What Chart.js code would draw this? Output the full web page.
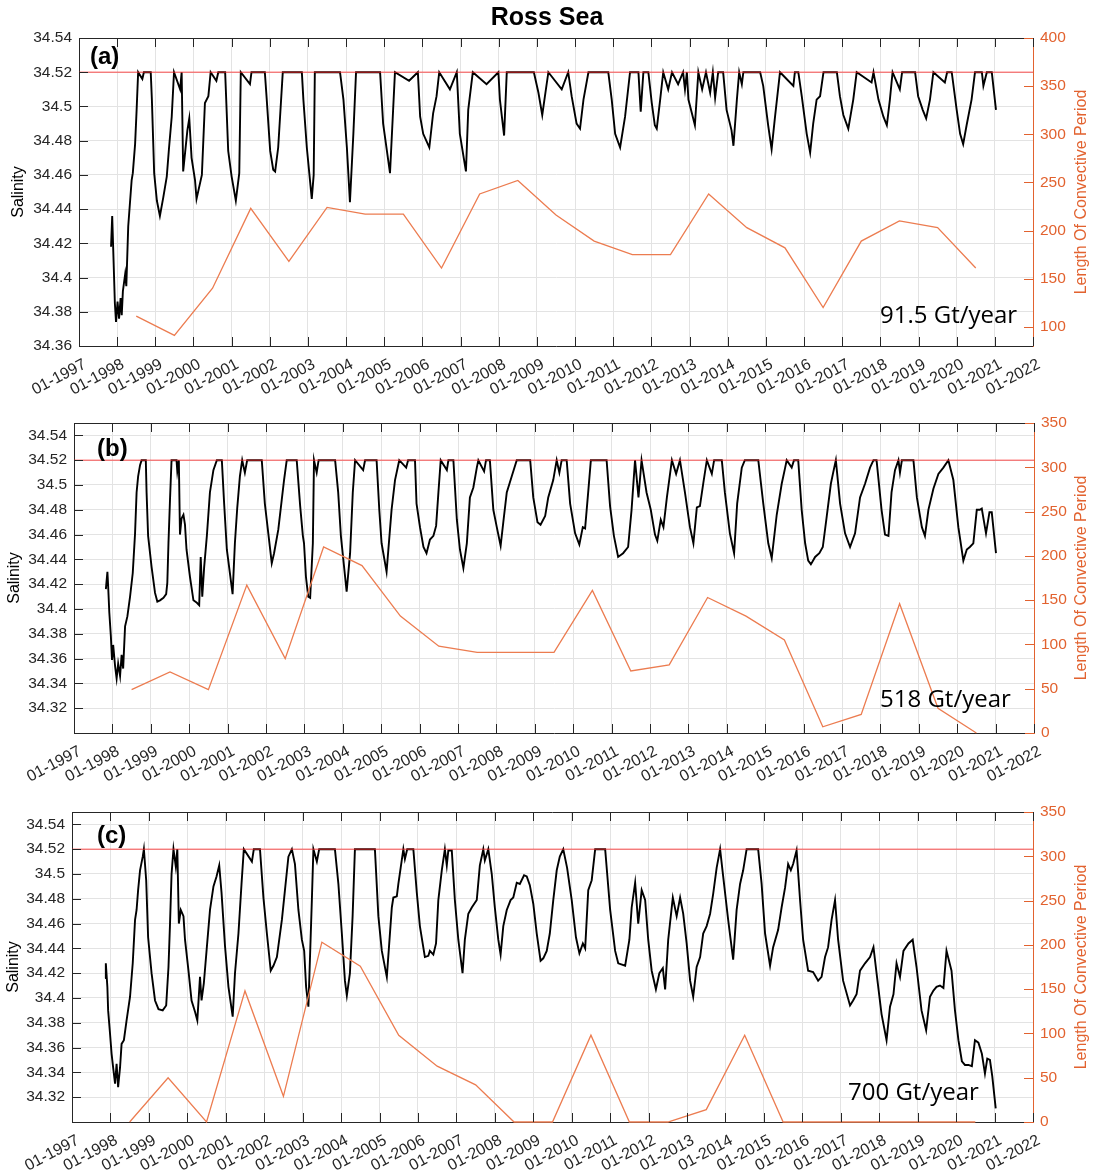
<!DOCTYPE html>
<html>
<head>
<meta charset="utf-8">
<script src="https://cdn.jsdelivr.net/npm/chart.js@4.4.1/dist/chart.umd.min.js"></script>
<style>
body { margin: 0; background: #fff; }
#wrap { position: relative; width: 1094px; height: 1172px; }
canvas { position: absolute; left: 0; }
</style>
</head>
<body>
<div id="wrap">
  <canvas id="ca" width="1094" height="400" style="top:0px"></canvas>
  <canvas id="cb" width="1094" height="390" style="top:400px"></canvas>
  <canvas id="cc" width="1094" height="382" style="top:790px"></canvas>
</div>
<script>
// ---- data ----
var yearTicks = [1997, 1998, 1999, 2000, 2001, 2002, 2003, 2004, 2005, 2006, 2007, 2008, 2009,
                 2010, 2011, 2012, 2013, 2014, 2015, 2016, 2017, 2018, 2019, 2020, 2021, 2022];
var salTicksA = [34.36, 34.38, 34.40, 34.42, 34.44, 34.46, 34.48, 34.50, 34.52, 34.54];
var salTicksBC = [34.32, 34.34, 34.36, 34.38, 34.40, 34.42, 34.44, 34.46, 34.48, 34.50, 34.52, 34.54];
var convTicksA = [100, 150, 200, 250, 300, 350, 400];
var convTicksBC = [0, 50, 100, 150, 200, 250, 300, 350];
var threshold = 34.52;

// length of convective period, one value per year (plotted mid-year)
var convYears = [1998.5, 1999.5, 2000.5, 2001.5, 2002.5, 2003.5, 2004.5, 2005.5, 2006.5, 2007.5, 2008.5, 2009.5,
                 2010.5, 2011.5, 2012.5, 2013.5, 2014.5, 2015.5, 2016.5, 2017.5, 2018.5, 2019.5, 2020.5];
var convA = [111, 91, 140, 223, 168, 224, 217, 217, 161, 238, 252, 216, 189, 175, 175, 238, 203, 182, 120, 189, 210, 203, 161];
var convB = [49, 69, 49, 167, 84, 210, 189, 132, 98, 91, 91, 91, 161, 70, 77, 153, 132, 105, 7, 21, 146, 28, 0];
var convC = [0, 50, 0, 148, 29, 203, 176, 98, 63, 42, 0, 0, 98, 0, 0, 14, 98, 0, 0, 0, 0, 0, 0];

var rates = ['91.5 Gt/year', '518 Gt/year', '700 Gt/year'];

// salinity, [decimal year, salinity]
var salinityA = [
[1997.84,34.418],[1997.87,34.436],[1997.94,34.385],[1997.97,34.374],[1998.01,34.386],[1998.05,34.376],
[1998.09,34.388],[1998.12,34.378],[1998.15,34.392],[1998.21,34.402],[1998.24,34.395],[1998.29,34.43],
[1998.38,34.457],[1998.41,34.461],[1998.47,34.478],[1998.51,34.498],[1998.55,34.52],[1998.66,34.516],
[1998.70,34.52],[1998.88,34.52],[1998.91,34.504],[1998.97,34.461],[1999.04,34.445],[1999.12,34.436],
[1999.21,34.447],[1999.30,34.459],[1999.36,34.476],[1999.43,34.494],[1999.49,34.52],[1999.65,34.51],
[1999.69,34.52],[1999.73,34.462],[1999.84,34.486],[1999.89,34.493],[1999.95,34.47],[2000.04,34.457],
[2000.08,34.446],[2000.22,34.46],[2000.30,34.502],[2000.39,34.506],[2000.45,34.52],[2000.60,34.515],
[2000.65,34.52],[2000.83,34.52],[2000.91,34.474],[2001.00,34.459],[2001.11,34.445],[2001.20,34.461],
[2001.24,34.52],[2001.48,34.513],[2001.52,34.52],[2001.87,34.52],[2001.92,34.504],[2002.01,34.474],
[2002.09,34.463],[2002.14,34.462],[2002.22,34.476],[2002.34,34.52],[2002.84,34.52],[2002.88,34.504],
[2002.97,34.476],[2003.10,34.446],[2003.15,34.46],[2003.18,34.52],[2003.84,34.52],[2003.93,34.504],
[2004.02,34.476],[2004.10,34.444],[2004.19,34.484],[2004.26,34.52],[2004.89,34.52],[2004.97,34.49],
[2005.15,34.461],[2005.28,34.52],[2005.65,34.515],[2005.88,34.52],[2005.94,34.494],[2006.02,34.484],
[2006.18,34.476],[2006.28,34.496],[2006.37,34.506],[2006.44,34.52],[2006.72,34.51],[2006.90,34.52],
[2006.98,34.484],[2007.14,34.462],[2007.20,34.498],[2007.32,34.52],[2007.68,34.513],[2007.99,34.52],
[2008.03,34.504],[2008.14,34.483],[2008.21,34.52],[2008.92,34.52],[2009.04,34.508],[2009.14,34.495],
[2009.21,34.506],[2009.30,34.52],[2009.65,34.51],[2009.82,34.52],[2009.91,34.506],[2010.04,34.49],
[2010.13,34.487],[2010.22,34.504],[2010.35,34.52],[2010.87,34.52],[2010.96,34.504],[2011.05,34.484],
[2011.18,34.476],[2011.31,34.494],[2011.44,34.52],[2011.66,34.52],[2011.72,34.497],[2011.79,34.52],
[2011.92,34.52],[2012.01,34.502],[2012.09,34.489],[2012.14,34.487],[2012.23,34.504],[2012.31,34.52],
[2012.44,34.51],[2012.54,34.52],[2012.70,34.513],[2012.83,34.52],[2012.88,34.51],[2012.93,34.52],
[2012.97,34.504],[2013.14,34.489],[2013.23,34.52],[2013.33,34.51],[2013.43,34.52],[2013.54,34.508],
[2013.61,34.52],[2013.67,34.505],[2013.75,34.52],[2013.88,34.52],[2013.97,34.498],[2014.10,34.486],
[2014.15,34.477],[2014.24,34.504],[2014.30,34.52],[2014.37,34.513],[2014.41,34.52],[2014.85,34.52],
[2014.93,34.512],[2015.06,34.489],[2015.15,34.475],[2015.24,34.494],[2015.37,34.52],[2015.72,34.512],
[2015.76,34.52],[2015.85,34.52],[2015.94,34.506],[2016.07,34.484],[2016.16,34.473],[2016.24,34.49],
[2016.33,34.504],[2016.42,34.506],[2016.51,34.52],[2016.86,34.52],[2016.94,34.506],[2017.03,34.495],
[2017.16,34.487],[2017.29,34.504],[2017.38,34.52],[2017.77,34.514],[2017.82,34.52],[2017.95,34.504],
[2018.08,34.494],[2018.17,34.489],[2018.25,34.504],[2018.32,34.52],[2018.51,34.51],[2018.57,34.52],
[2018.91,34.52],[2018.99,34.506],[2019.11,34.498],[2019.20,34.493],[2019.30,34.504],[2019.39,34.52],
[2019.69,34.514],[2019.75,34.52],[2019.87,34.52],[2020.00,34.498],[2020.09,34.484],[2020.17,34.478],
[2020.26,34.489],[2020.39,34.504],[2020.48,34.52],[2020.66,34.52],[2020.70,34.512],[2020.79,34.52],
[2020.92,34.52],[2021.03,34.498]
];

var salinityB = [
[1997.83,34.416],[1997.87,34.430],[1997.89,34.418],[1997.92,34.397],[1997.96,34.378],[1997.99,34.359],
[1998.02,34.371],[1998.07,34.354],[1998.11,34.344],[1998.15,34.356],[1998.20,34.346],[1998.24,34.363],
[1998.28,34.352],[1998.33,34.386],[1998.39,34.394],[1998.46,34.410],[1998.53,34.429],[1998.59,34.461],
[1998.63,34.494],[1998.67,34.507],[1998.72,34.516],[1998.76,34.52],[1998.87,34.52],[1998.89,34.494],
[1998.93,34.459],[1999.02,34.434],[1999.11,34.413],[1999.17,34.406],[1999.24,34.407],[1999.33,34.409],
[1999.40,34.412],[1999.43,34.421],[1999.46,34.453],[1999.50,34.488],[1999.54,34.52],[1999.67,34.52],
[1999.69,34.511],[1999.73,34.52],[1999.76,34.46],[1999.80,34.473],[1999.85,34.476],[1999.89,34.468],
[1999.93,34.448],[2000.02,34.426],[2000.11,34.407],[2000.20,34.405],[2000.26,34.403],[2000.30,34.442],
[2000.34,34.41],[2000.39,34.434],[2000.46,34.459],[2000.54,34.494],[2000.63,34.512],[2000.72,34.52],
[2000.85,34.52],[2000.91,34.485],[2000.98,34.448],[2001.06,34.429],[2001.13,34.412],[2001.19,34.453],
[2001.25,34.481],[2001.32,34.507],[2001.38,34.52],[2001.45,34.51],[2001.51,34.52],[2001.89,34.52],
[2001.97,34.485],[2002.06,34.461],[2002.15,34.437],[2002.21,34.445],[2002.32,34.464],[2002.41,34.488],
[2002.47,34.504],[2002.54,34.52],[2002.80,34.52],[2002.89,34.483],[2002.96,34.459],[2002.99,34.453],
[2003.04,34.426],[2003.10,34.41],[2003.15,34.409],[2003.22,34.453],[2003.25,34.52],[2003.32,34.51],
[2003.37,34.52],[2003.80,34.52],[2003.88,34.494],[2003.95,34.459],[2004.06,34.426],[2004.10,34.414],
[2004.19,34.445],[2004.26,34.494],[2004.32,34.52],[2004.53,34.512],[2004.58,34.52],[2004.88,34.52],
[2004.95,34.48],[2005.01,34.453],[2005.14,34.43],[2005.27,34.48],[2005.36,34.504],[2005.47,34.52],
[2005.65,34.514],[2005.70,34.52],[2005.88,34.52],[2005.92,34.485],[2006.01,34.466],[2006.10,34.45],
[2006.18,34.445],[2006.27,34.456],[2006.36,34.459],[2006.43,34.467],[2006.49,34.494],[2006.55,34.52],
[2006.71,34.512],[2006.75,34.52],[2006.88,34.52],[2006.97,34.472],[2007.05,34.448],[2007.14,34.433],
[2007.23,34.453],[2007.31,34.49],[2007.40,34.498],[2007.49,34.514],[2007.53,34.52],[2007.68,34.511],
[2007.73,34.52],[2007.83,34.52],[2007.92,34.48],[2008.01,34.466],[2008.11,34.451],[2008.18,34.47],
[2008.27,34.494],[2008.40,34.507],[2008.53,34.52],[2008.88,34.52],[2008.96,34.49],[2009.07,34.47],
[2009.15,34.468],[2009.27,34.475],[2009.35,34.49],[2009.48,34.504],[2009.57,34.52],[2009.64,34.51],
[2009.70,34.52],[2009.83,34.52],[2009.92,34.485],[2010.05,34.461],[2010.16,34.452],[2010.25,34.466],
[2010.31,34.465],[2010.39,34.494],[2010.46,34.52],[2010.87,34.52],[2010.96,34.483],[2011.06,34.459],
[2011.17,34.442],[2011.30,34.445],[2011.43,34.45],[2011.52,34.48],[2011.61,34.52],[2011.70,34.49],
[2011.78,34.52],[2011.91,34.494],[2012.02,34.48],[2012.13,34.46],[2012.19,34.455],[2012.28,34.472],
[2012.35,34.466],[2012.44,34.49],[2012.57,34.52],[2012.68,34.509],[2012.78,34.52],[2012.91,34.494],
[2013.04,34.466],[2013.13,34.453],[2013.22,34.482],[2013.30,34.483],[2013.39,34.502],[2013.48,34.52],
[2013.61,34.509],[2013.67,34.52],[2013.87,34.52],[2013.95,34.494],[2014.08,34.461],[2014.19,34.445],
[2014.27,34.485],[2014.39,34.514],[2014.47,34.52],[2014.82,34.52],[2014.95,34.485],[2015.08,34.453],
[2015.17,34.441],[2015.30,34.476],[2015.43,34.501],[2015.52,34.514],[2015.56,34.52],[2015.69,34.514],
[2015.75,34.52],[2015.86,34.52],[2015.95,34.48],[2016.04,34.453],[2016.12,34.439],[2016.19,34.436],
[2016.30,34.442],[2016.41,34.445],[2016.50,34.45],[2016.60,34.474],[2016.71,34.501],[2016.77,34.51],
[2016.84,34.52],[2016.95,34.485],[2017.08,34.461],[2017.21,34.45],[2017.34,34.461],[2017.47,34.49],
[2017.60,34.501],[2017.73,34.514],[2017.82,34.52],[2017.90,34.52],[2018.03,34.48],[2018.12,34.46],
[2018.21,34.459],[2018.29,34.494],[2018.38,34.512],[2018.47,34.52],[2018.51,34.51],[2018.56,34.52],
[2018.86,34.52],[2018.95,34.49],[2019.08,34.466],[2019.16,34.459],[2019.25,34.48],[2019.38,34.497],
[2019.51,34.509],[2019.64,34.514],[2019.77,34.52],[2019.90,34.504],[2020.03,34.466],[2020.16,34.439],
[2020.25,34.448],[2020.33,34.45],[2020.42,34.453],[2020.51,34.48],[2020.59,34.48],[2020.64,34.481],
[2020.75,34.461],[2020.84,34.478],[2020.90,34.478],[2021.01,34.445]
];

var salinityC = [
[1997.86,34.416],[1997.88,34.428],[1997.92,34.409],[1997.94,34.39],[1997.99,34.371],[1998.03,34.355],
[1998.07,34.344],[1998.12,34.331],[1998.16,34.347],[1998.20,34.328],[1998.25,34.344],[1998.29,34.363],
[1998.35,34.366],[1998.42,34.382],[1998.51,34.401],[1998.58,34.428],[1998.64,34.463],[1998.68,34.471],
[1998.72,34.487],[1998.77,34.503],[1998.84,34.514],[1998.87,34.52],[1998.93,34.495],[1998.98,34.449],
[1999.07,34.42],[1999.16,34.398],[1999.25,34.391],[1999.36,34.39],[1999.45,34.394],[1999.51,34.425],
[1999.55,34.46],[1999.59,34.5],[1999.64,34.52],[1999.70,34.506],[1999.74,34.52],[1999.78,34.46],
[1999.83,34.471],[1999.90,34.466],[1999.94,34.447],[2000.03,34.422],[2000.11,34.398],[2000.20,34.389],
[2000.26,34.382],[2000.33,34.417],[2000.37,34.398],[2000.43,34.412],[2000.50,34.438],[2000.59,34.471],
[2000.68,34.49],[2000.76,34.498],[2000.83,34.507],[2000.89,34.485],[2000.98,34.442],[2001.07,34.409],
[2001.18,34.385],[2001.24,34.42],[2001.33,34.452],[2001.41,34.492],[2001.47,34.52],[2001.68,34.51],
[2001.73,34.52],[2001.89,34.52],[2001.98,34.481],[2002.07,34.452],[2002.17,34.422],[2002.24,34.426],
[2002.33,34.433],[2002.46,34.463],[2002.54,34.487],[2002.63,34.514],[2002.72,34.52],[2002.80,34.508],
[2002.89,34.471],[2002.98,34.447],[2003.04,34.438],[2003.09,34.409],[2003.15,34.393],[2003.24,34.479],
[2003.28,34.52],[2003.37,34.51],[2003.43,34.52],[2003.84,34.52],[2003.93,34.492],[2004.02,34.452],
[2004.10,34.414],[2004.15,34.402],[2004.23,34.42],[2004.30,34.466],[2004.36,34.52],[2004.88,34.52],
[2004.97,34.466],[2005.06,34.438],[2005.19,34.417],[2005.32,34.473],[2005.36,34.481],[2005.45,34.482],
[2005.49,34.492],[2005.55,34.505],[2005.62,34.52],[2005.66,34.512],[2005.72,34.52],[2005.88,34.52],
[2005.97,34.485],[2006.05,34.458],[2006.18,34.433],[2006.27,34.434],[2006.31,34.438],[2006.40,34.435],
[2006.47,34.444],[2006.53,34.479],[2006.62,34.503],[2006.70,34.52],[2006.75,34.507],[2006.79,34.519],
[2006.88,34.519],[2006.96,34.479],[2007.05,34.447],[2007.16,34.42],[2007.22,34.447],[2007.31,34.468],
[2007.40,34.473],[2007.53,34.479],[2007.61,34.507],[2007.70,34.52],[2007.74,34.511],[2007.83,34.52],
[2007.92,34.5],[2008.00,34.473],[2008.09,34.447],[2008.15,34.435],[2008.22,34.458],[2008.31,34.471],
[2008.41,34.479],[2008.48,34.481],[2008.57,34.493],[2008.65,34.492],[2008.76,34.499],[2008.83,34.498],
[2008.91,34.491],[2009.00,34.476],[2009.09,34.452],[2009.19,34.43],[2009.26,34.432],[2009.35,34.438],
[2009.43,34.452],[2009.52,34.479],[2009.61,34.503],[2009.69,34.514],[2009.78,34.52],[2009.88,34.505],
[2010.00,34.479],[2010.11,34.449],[2010.20,34.436],[2010.29,34.444],[2010.35,34.44],[2010.43,34.487],
[2010.52,34.495],[2010.61,34.52],[2010.87,34.52],[2011.00,34.471],[2011.13,34.438],[2011.21,34.428],
[2011.39,34.426],[2011.50,34.447],[2011.56,34.473],[2011.65,34.493],[2011.73,34.46],[2011.82,34.487],
[2011.91,34.479],[2011.99,34.447],[2012.08,34.422],[2012.19,34.407],[2012.28,34.42],[2012.37,34.424],
[2012.43,34.407],[2012.51,34.447],[2012.63,34.481],[2012.73,34.466],[2012.82,34.481],[2012.90,34.468],
[2012.99,34.444],[2013.08,34.414],[2013.16,34.401],[2013.25,34.425],[2013.34,34.433],[2013.42,34.452],
[2013.51,34.458],[2013.60,34.468],[2013.68,34.484],[2013.77,34.505],[2013.86,34.52],[2013.94,34.498],
[2014.07,34.463],[2014.20,34.431],[2014.29,34.471],[2014.38,34.492],[2014.46,34.503],[2014.55,34.52],
[2014.85,34.52],[2014.94,34.492],[2015.03,34.452],[2015.16,34.426],[2015.24,34.441],[2015.37,34.455],
[2015.46,34.473],[2015.55,34.489],[2015.63,34.508],[2015.70,34.503],[2015.76,34.508],[2015.85,34.519],
[2015.94,34.479],[2016.02,34.447],[2016.15,34.422],[2016.28,34.421],[2016.41,34.414],[2016.50,34.417],
[2016.59,34.433],[2016.67,34.441],[2016.76,34.463],[2016.85,34.479],[2016.93,34.447],[2017.06,34.414],
[2017.24,34.394],[2017.32,34.398],[2017.41,34.403],[2017.50,34.422],[2017.63,34.428],[2017.76,34.433],
[2017.85,34.441],[2017.93,34.42],[2018.06,34.387],[2018.19,34.366],[2018.28,34.393],[2018.37,34.403],
[2018.45,34.428],[2018.54,34.417],[2018.63,34.438],[2018.76,34.444],[2018.87,34.447],[2018.97,34.425],
[2019.10,34.39],[2019.22,34.374],[2019.32,34.401],[2019.41,34.406],[2019.49,34.409],[2019.58,34.41],
[2019.67,34.408],[2019.75,34.438],[2019.88,34.422],[2019.97,34.39],[2020.06,34.366],[2020.15,34.349],
[2020.23,34.346],[2020.32,34.346],[2020.41,34.345],[2020.49,34.366],[2020.58,34.364],[2020.67,34.355],
[2020.75,34.339],[2020.81,34.351],[2020.88,34.35],[2020.94,34.337],[2021.03,34.311]
];

// ---- styling ----
var axisColor = '#262626';
var gridColor = '#e3e3e3';
var orange = '#e2622f';
var orangeLine = '#ec7c50';
var redLine = 'rgba(255,40,40,0.55)';
var fontFam = "'Liberation Sans', Arial, sans-serif";

Chart.defaults.font.family = fontFam;
Chart.defaults.color = axisColor;

// box, inward tick marks, panel letter, rate text, right axis title
var panelDecor = {
    id: 'panelDecor',
    afterDraw: function(chart, args, o) {
        var ctx = chart.ctx, a = chart.chartArea;
        var sx = chart.scales.x, sy = chart.scales.y, sy2 = chart.scales.y2;
        ctx.save();
        ctx.lineWidth = 1;
        ctx.strokeStyle = axisColor;
        ctx.beginPath();
        ctx.moveTo(a.left, Math.round(a.top) + 0.5);
        ctx.lineTo(a.right, Math.round(a.top) + 0.5);
        sx.ticks.forEach(function(t) {
            var px = Math.round(sx.getPixelForValue(t.value)) + 0.5;
            ctx.moveTo(px, a.bottom); ctx.lineTo(px, a.bottom - 9);
            ctx.moveTo(px, a.top); ctx.lineTo(px, a.top + 9);
        });
        sy.ticks.forEach(function(t) {
            var py = Math.round(sy.getPixelForValue(t.value)) + 0.5;
            ctx.moveTo(a.left, py); ctx.lineTo(a.left + 9, py);
        });
        ctx.stroke();
        ctx.strokeStyle = orange;
        ctx.beginPath();
        sy2.ticks.forEach(function(t) {
            var py = Math.round(sy2.getPixelForValue(t.value)) + 0.5;
            ctx.moveTo(a.right, py); ctx.lineTo(a.right - 9, py);
        });
        ctx.stroke();

        ctx.fillStyle = '#000';
        ctx.textAlign = 'left';
        ctx.textBaseline = 'alphabetic';
        ctx.font = 'bold 24px ' + fontFam;
        ctx.fillText(o.tag, a.left + o.tagDx, a.top + o.tagDy);
        ctx.font = "24px 'Open Sans', sans-serif";
        ctx.fillText(o.rate, a.right - o.rateDx, a.bottom - o.rateDy);

        ctx.translate(o.rightTitleX, (a.top + a.bottom) / 2);
        ctx.rotate(-Math.PI / 2);
        ctx.textAlign = 'center';
        ctx.textBaseline = 'middle';
        ctx.fillStyle = orange;
        ctx.font = '16px ' + fontFam;
        ctx.fillText('Length Of Convective Period', 0, 0);
        ctx.restore();
    }
};

function makePanel(id, p) {
    var pts = p.salinity.map(function(d) { return {x: d[0], y: d[1]}; });
    var conv = convYears.map(function(t, i) { return {x: t, y: p.conv[i]}; });
    return new Chart(document.getElementById(id), {
        type: 'line',
        data: {
            datasets: [{
                data: [{x: 1997, y: threshold}, {x: 2022, y: threshold}],
                yAxisID: 'y', borderColor: redLine, borderWidth: 1.6, pointRadius: 0
            }, {
                data: conv,
                yAxisID: 'y2', borderColor: orangeLine, borderWidth: 1.3, pointRadius: 0, clip: false
            }, {
                data: pts,
                yAxisID: 'y', borderColor: '#000', borderWidth: 1.9, pointRadius: 0
            }]
        },
        options: {
            responsive: false,
            animation: false,
            devicePixelRatio: 1,
            layout: {padding: {top: p.padTop, left: 0, right: 0, bottom: 0}},
            plugins: {
                legend: {display: false},
                tooltip: {enabled: false},
                title: p.title ? {
                    display: true, text: p.title, color: '#000',
                    font: {size: 25, weight: 'bold'}, padding: {top: 3, bottom: 5}
                } : {display: false},
                panelDecor: p.decor
            },
            scales: {
                x: {
                    type: 'linear', min: 1997, max: 2022,
                    afterBuildTicks: function(s) { s.ticks = yearTicks.map(function(v) { return {value: v}; }); },
                    afterFit: function(s) { s.height = p.xAxisH; },
                    ticks: {
                        autoSkip: false, maxRotation: 28, minRotation: 28, padding: 9, labelOffset: 6,
                        color: axisColor, font: {size: 16},
                        callback: function(v) { return '01-' + v; }
                    },
                    grid: {color: gridColor, drawTicks: false},
                    border: {color: axisColor, width: 1}
                },
                y: {
                    position: 'left', min: p.yMin, max: p.yMax,
                    afterBuildTicks: function(s) { s.ticks = p.yTicks.map(function(v) { return {value: v}; }); },
                    afterFit: function(s) { s.width = p.leftW; },
                    ticks: {
                        padding: 7, color: axisColor, font: {size: 15.5},
                        callback: function(v) { return String(+v.toFixed(2)); }
                    },
                    grid: {color: gridColor, drawTicks: false},
                    border: {color: axisColor, width: 1},
                    title: {display: true, text: 'Salinity', color: '#000', font: {size: 16}, padding: {top: p.titlePad, bottom: 0}}
                },
                y2: {
                    position: 'right', min: p.y2Min, max: p.y2Max,
                    afterBuildTicks: function(s) { s.ticks = p.y2Ticks.map(function(v) { return {value: v}; }); },
                    afterFit: function(s) { s.width = p.rightW; },
                    ticks: {padding: 7, color: orange, font: {size: 15.5}},
                    grid: {drawOnChartArea: false, drawTicks: false},
                    border: {color: orange, width: 1}
                }
            }
        },
        plugins: [panelDecor]
    });
}

makePanel('ca', {
    salinity: salinityA, conv: convA, title: 'Ross Sea', padTop: 0, xAxisH: 54,
    yMin: 34.36, yMax: 34.54, yTicks: salTicksA, y2Min: 80, y2Max: 400, y2Ticks: convTicksA,
    leftW: 79, rightW: 61, titlePad: 9,
    decor: {tag: '(a)', tagDx: 11, tagDy: 26, rate: rates[0], rateDx: 153, rateDy: 23, rightTitleX: 1082}
});
makePanel('cb', {
    salinity: salinityB, conv: convB, title: null, padTop: 23, xAxisH: 57,
    yMin: 34.30, yMax: 34.55, yTicks: salTicksBC, y2Min: 0, y2Max: 350, y2Ticks: convTicksBC,
    leftW: 74, rightW: 60, titlePad: 5,
    decor: {tag: '(b)', tagDx: 23, tagDy: 33, rate: rates[1], rateDx: 154, rateDy: 26, rightTitleX: 1082}
});
makePanel('cc', {
    salinity: salinityC, conv: convC, title: null, padTop: 22, xAxisH: 50,
    yMin: 34.30, yMax: 34.55, yTicks: salTicksBC, y2Min: 0, y2Max: 350, y2Ticks: convTicksBC,
    leftW: 72, rightW: 61, titlePad: 4,
    decor: {tag: '(c)', tagDx: 25, tagDy: 31, rate: rates[2], rateDx: 185, rateDy: 22, rightTitleX: 1082}
});
</script>
</body>
</html>
